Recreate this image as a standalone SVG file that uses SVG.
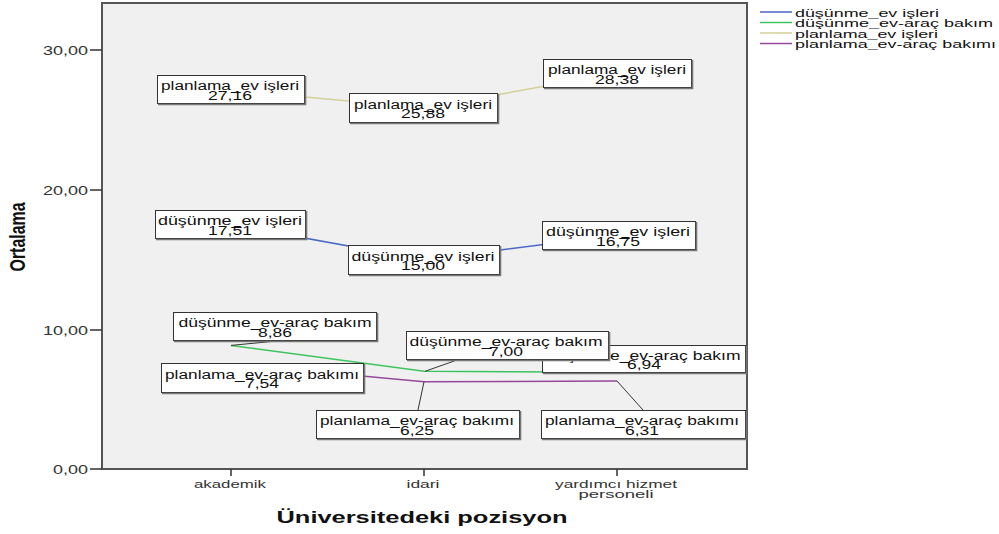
<svg xmlns="http://www.w3.org/2000/svg" width="999" height="534" viewBox="0 0 999 534">
<style>
text{font-family:"Liberation Sans",Arial,sans-serif;fill:#111}
.lb{font-size:12.5px;text-anchor:middle}
.ax{font-size:13px;text-anchor:end;fill:#333}
.cat{font-size:11px;text-anchor:middle;fill:#333}
.lg{font-size:11.5px}
.box{fill:#fff;stroke:#333;stroke-width:1}
.sh{fill:none;stroke:#777;stroke-width:1.6}
.ld{stroke:#333;stroke-width:1;fill:none}
.tk{stroke:#333;stroke-width:1.5}
.s1{stroke:#4a68c8;stroke-width:1.5;fill:none}
.s2{stroke:#3ec45e;stroke-width:1.5;fill:none}
.s3{stroke:#d4d09a;stroke-width:1.5;fill:none}
.s4{stroke:#94489a;stroke-width:1.5;fill:none}
</style>
<rect width="999" height="534" fill="#fff"/>
<g id="plot">
<rect x="102" y="3" width="645" height="466" fill="#f0f0f0" stroke="#555" stroke-width="2"/>
<line class="tk" x1="90" y1="50" x2="102" y2="50"/>
<line class="tk" x1="90" y1="190" x2="102" y2="190"/>
<line class="tk" x1="90" y1="330" x2="102" y2="330"/>
<line class="tk" x1="90" y1="469" x2="102" y2="469"/>
<line class="tk" x1="231" y1="469" x2="231" y2="476"/>
<line class="tk" x1="424" y1="469" x2="424" y2="476"/>
<line class="tk" x1="617" y1="469" x2="617" y2="476"/>
<text class="ax" x="88" y="55" textLength="45" lengthAdjust="spacingAndGlyphs">30,00</text>
<text class="ax" x="88" y="195" textLength="45" lengthAdjust="spacingAndGlyphs">20,00</text>
<text class="ax" x="88" y="335" textLength="45" lengthAdjust="spacingAndGlyphs">10,00</text>
<text class="ax" x="88" y="474" textLength="35" lengthAdjust="spacingAndGlyphs">0,00</text>
<text class="cat" x="230" y="488" textLength="72" lengthAdjust="spacingAndGlyphs">akademik</text>
<text class="cat" x="423" y="488" textLength="33" lengthAdjust="spacingAndGlyphs">idari</text>
<text class="cat" x="616" y="488" textLength="122" lengthAdjust="spacingAndGlyphs">yardımcı hizmet</text>
<text class="cat" x="616" y="498" textLength="75" lengthAdjust="spacingAndGlyphs">personeli</text>
<text x="422" y="523" font-size="16" font-weight="bold" text-anchor="middle" textLength="291" lengthAdjust="spacingAndGlyphs">Üniversitedeki pozisyon</text>
<text transform="translate(25,237) scale(1.38,1) rotate(-90)" font-size="16" font-weight="bold" text-anchor="middle" textLength="69" lengthAdjust="spacingAndGlyphs">Ortalama</text>
</g>
<g id="connectors">
<polyline class="s3" points="231,90 424,108 617,73"/>
<polyline class="s1" points="231,224.7 424,259.7 617,235.3"/>
<polyline class="s2" points="231,345.4 424,371.3 617,372.2"/>
<polyline class="s4" points="231,363.8 424,381.8 617,381"/>
<line class="ld" x1="231" y1="345.4" x2="277" y2="341"/>
<line class="ld" x1="425" y1="371.3" x2="457" y2="360"/>
<line class="ld" x1="424" y1="381.8" x2="418" y2="410"/>
<line class="ld" x1="617" y1="381" x2="643" y2="410"/>
</g>
<g id="lbl-plan-ev-akademik">
<rect class="box" x="157.5" y="75.5" width="147" height="28"/><polyline class="sh" points="305.5,76 305.5,104.5 158,104.5"/>
<text class="lb" x="230" y="90" textLength="138" lengthAdjust="spacingAndGlyphs">planlama_ev işleri</text>
<text class="lb" x="230" y="99.5" textLength="44" lengthAdjust="spacingAndGlyphs">27,16</text>
</g>
<g id="lbl-plan-ev-idari">
<rect class="box" x="349.5" y="93.5" width="148" height="29"/><polyline class="sh" points="498.5,94 498.5,123.5 350,123.5"/>
<text class="lb" x="423" y="108.5" textLength="138" lengthAdjust="spacingAndGlyphs">planlama_ev işleri</text>
<text class="lb" x="423" y="118" textLength="44" lengthAdjust="spacingAndGlyphs">25,88</text>
</g>
<g id="lbl-plan-ev-yardimci">
<rect class="box" x="543.5" y="59.5" width="148" height="28"/><polyline class="sh" points="692.5,60 692.5,88.5 544,88.5"/>
<text class="lb" x="617" y="74" textLength="138" lengthAdjust="spacingAndGlyphs">planlama_ev işleri</text>
<text class="lb" x="617" y="83.5" textLength="44" lengthAdjust="spacingAndGlyphs">28,38</text>
</g>
<g id="lbl-dus-ev-akademik">
<rect class="box" x="155.5" y="210.5" width="150" height="28"/><polyline class="sh" points="306.5,211 306.5,239.5 156,239.5"/>
<text class="lb" x="230" y="225" textLength="144" lengthAdjust="spacingAndGlyphs">düşünme_ev işleri</text>
<text class="lb" x="230" y="234.5" textLength="44" lengthAdjust="spacingAndGlyphs">17,51</text>
</g>
<g id="lbl-dus-ev-idari">
<rect class="box" x="348.5" y="245.5" width="151" height="29"/><polyline class="sh" points="500.5,246 500.5,275.5 349,275.5"/>
<text class="lb" x="423" y="260.5" textLength="143" lengthAdjust="spacingAndGlyphs">düşünme_ev işleri</text>
<text class="lb" x="423" y="270" textLength="44" lengthAdjust="spacingAndGlyphs">15,00</text>
</g>
<g id="lbl-dus-ev-yardimci">
<rect class="box" x="542.5" y="221.5" width="153" height="28"/><polyline class="sh" points="696.5,222 696.5,250.5 543,250.5"/>
<text class="lb" x="618" y="236" textLength="144" lengthAdjust="spacingAndGlyphs">düşünme_ev işleri</text>
<text class="lb" x="618" y="245.5" textLength="44" lengthAdjust="spacingAndGlyphs">16,75</text>
</g>
<g id="lbl-dus-arac-akademik">
<rect class="box" x="173.5" y="312.5" width="203" height="28"/><polyline class="sh" points="377.5,313 377.5,341.5 174,341.5"/>
<text class="lb" x="275" y="327" textLength="193" lengthAdjust="spacingAndGlyphs">düşünme_ev-araç bakım</text>
<text class="lb" x="275" y="336.5" textLength="34" lengthAdjust="spacingAndGlyphs">8,86</text>
</g>
<g id="lbl-plan-arac-akademik">
<rect class="box" x="161.5" y="363.5" width="202" height="29"/><polyline class="sh" points="364.5,364 364.5,393.5 162,393.5"/>
<text class="lb" x="262" y="378.5" textLength="194" lengthAdjust="spacingAndGlyphs">planlama_ev-araç bakımı</text>
<text class="lb" x="262" y="388" textLength="34" lengthAdjust="spacingAndGlyphs">7,54</text>
</g>
<g id="lbl-dus-arac-yardimci">
<rect class="box" x="542.5" y="345.5" width="203" height="27"/><polyline class="sh" points="746.5,346 746.5,373.5 543,373.5"/>
<text class="lb" x="644" y="359.5" textLength="193" lengthAdjust="spacingAndGlyphs">düşünme_ev-araç bakım</text>
<text class="lb" x="644" y="369" textLength="34" lengthAdjust="spacingAndGlyphs">6,94</text>
</g>
<g id="lbl-dus-arac-idari">
<rect class="box" x="406.5" y="331.5" width="202" height="28"/><polyline class="sh" points="609.5,332 609.5,360.5 407,360.5"/>
<text class="lb" x="506" y="346" textLength="193" lengthAdjust="spacingAndGlyphs">düşünme_ev-araç bakım</text>
<text class="lb" x="506" y="355.5" textLength="34" lengthAdjust="spacingAndGlyphs">7,00</text>
</g>
<g id="lbl-plan-arac-idari">
<rect class="box" x="316.5" y="410.5" width="203" height="28"/><polyline class="sh" points="520.5,411 520.5,439.5 317,439.5"/>
<text class="lb" x="417" y="425" textLength="194" lengthAdjust="spacingAndGlyphs">planlama_ev-araç bakımı</text>
<text class="lb" x="417" y="434.5" textLength="34" lengthAdjust="spacingAndGlyphs">6,25</text>
</g>
<g id="lbl-plan-arac-yardimci">
<rect class="box" x="541.5" y="410.5" width="204" height="28"/><polyline class="sh" points="746.5,411 746.5,439.5 542,439.5"/>
<text class="lb" x="642" y="425" textLength="194" lengthAdjust="spacingAndGlyphs">planlama_ev-araç bakımı</text>
<text class="lb" x="642" y="434.5" textLength="34" lengthAdjust="spacingAndGlyphs">6,31</text>
</g>
<g id="legend">
<line class="s1" x1="760" y1="12" x2="792" y2="12" stroke-width="2"/>
<line class="s2" x1="760" y1="22.5" x2="792" y2="22.5" stroke-width="2"/>
<line class="s3" x1="760" y1="33" x2="792" y2="33" stroke-width="2"/>
<line class="s4" x1="760" y1="43.5" x2="792" y2="43.5" stroke-width="2"/>
<text class="lg" x="795" y="16.5" textLength="144" lengthAdjust="spacingAndGlyphs">düşünme_ev işleri</text>
<text class="lg" x="795" y="27" textLength="198" lengthAdjust="spacingAndGlyphs">düşünme_ev-araç bakım</text>
<text class="lg" x="795" y="37.5" textLength="143" lengthAdjust="spacingAndGlyphs">planlama_ev işleri</text>
<text class="lg" x="795" y="48" textLength="201" lengthAdjust="spacingAndGlyphs">planlama_ev-araç bakımı</text>
</g>
</svg>
